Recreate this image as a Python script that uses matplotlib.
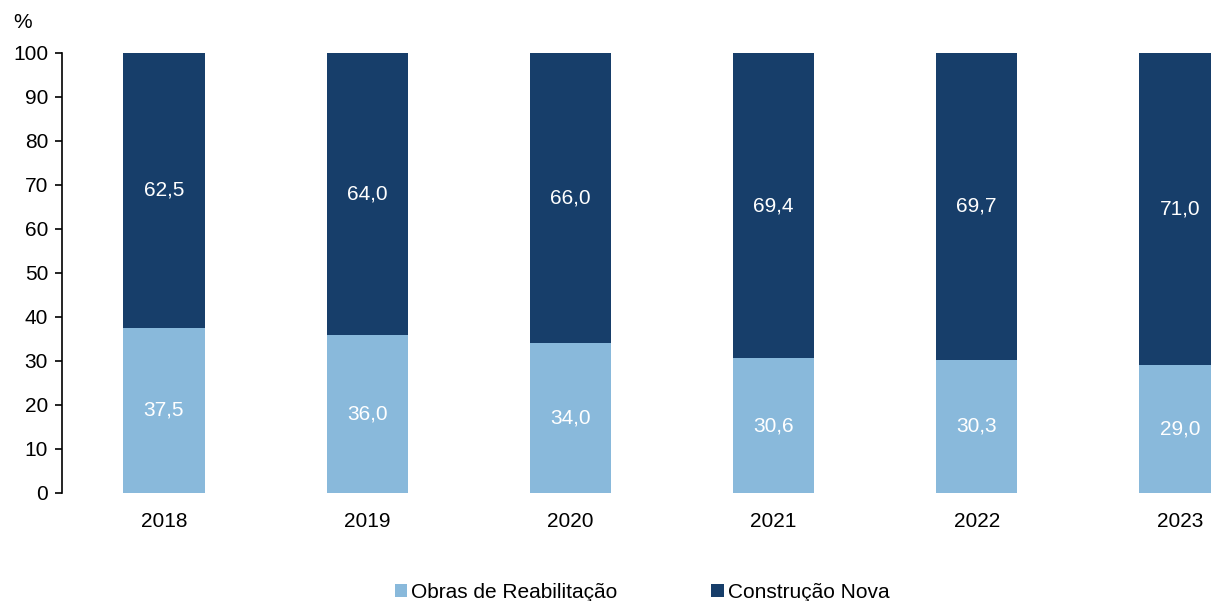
import matplotlib.pyplot as plt
import numpy as np

plt.rcParams['font.family'] = ['Liberation Sans', 'DejaVu Sans']

years = ['2018', '2019', '2020', '2021', '2022', '2023']
reabilitacao = [37.5, 36.0, 34.0, 30.6, 30.3, 29.0]
construcao = [62.5, 64.0, 66.0, 69.4, 69.7, 71.0]

light = '#89B9DB'
dark = '#173E6A'
fs = 15

fig = plt.figure(figsize=(12.11, 6.01), dpi=100)
W, H = 1211, 601
ax = fig.add_axes([62 / W, 1 - 493 / H, (W - 62) / W, 440 / H])

x = np.arange(len(years))
b1 = ax.bar(x, reabilitacao, width=0.4, color=light, label='Obras de Reabilitação')
b2 = ax.bar(x, construcao, width=0.4, bottom=reabilitacao, color=dark, label='Construção Nova')

for i in range(len(years)):
    ax.text(x[i], reabilitacao[i] / 2, f'{reabilitacao[i]:.1f}'.replace('.', ','),
            ha='center', va='center', color='white', fontsize=fs)
    ax.text(x[i], reabilitacao[i] + construcao[i] / 2, f'{construcao[i]:.1f}'.replace('.', ','),
            ha='center', va='center', color='white', fontsize=fs)

ax.set_xlim(-0.502, 5.153)
ax.set_ylim(0, 100)
ax.set_yticks(range(0, 101, 10))
ax.set_xticks(x)
ax.set_xticklabels(years)
ax.tick_params(axis='y', length=5, width=1.2, labelsize=fs, pad=5)
ax.tick_params(axis='x', length=0, labelsize=fs, pad=14)
for s in ['top', 'right', 'bottom']:
    ax.spines[s].set_visible(False)
ax.spines['left'].set_linewidth(1.2)

fig.text(23 / W, 1 - 23 / H, '%', ha='center', va='center', fontsize=fs)

fig.legend(handles=[b1, b2], loc='center', bbox_to_anchor=(642 / W, 1 - 592 / H),
           ncol=2, frameon=False, fontsize=fs, handlelength=0.6, handleheight=0.6,
           handletextpad=0.2, columnspacing=4.5)

fig.savefig('out.png', dpi=100)
